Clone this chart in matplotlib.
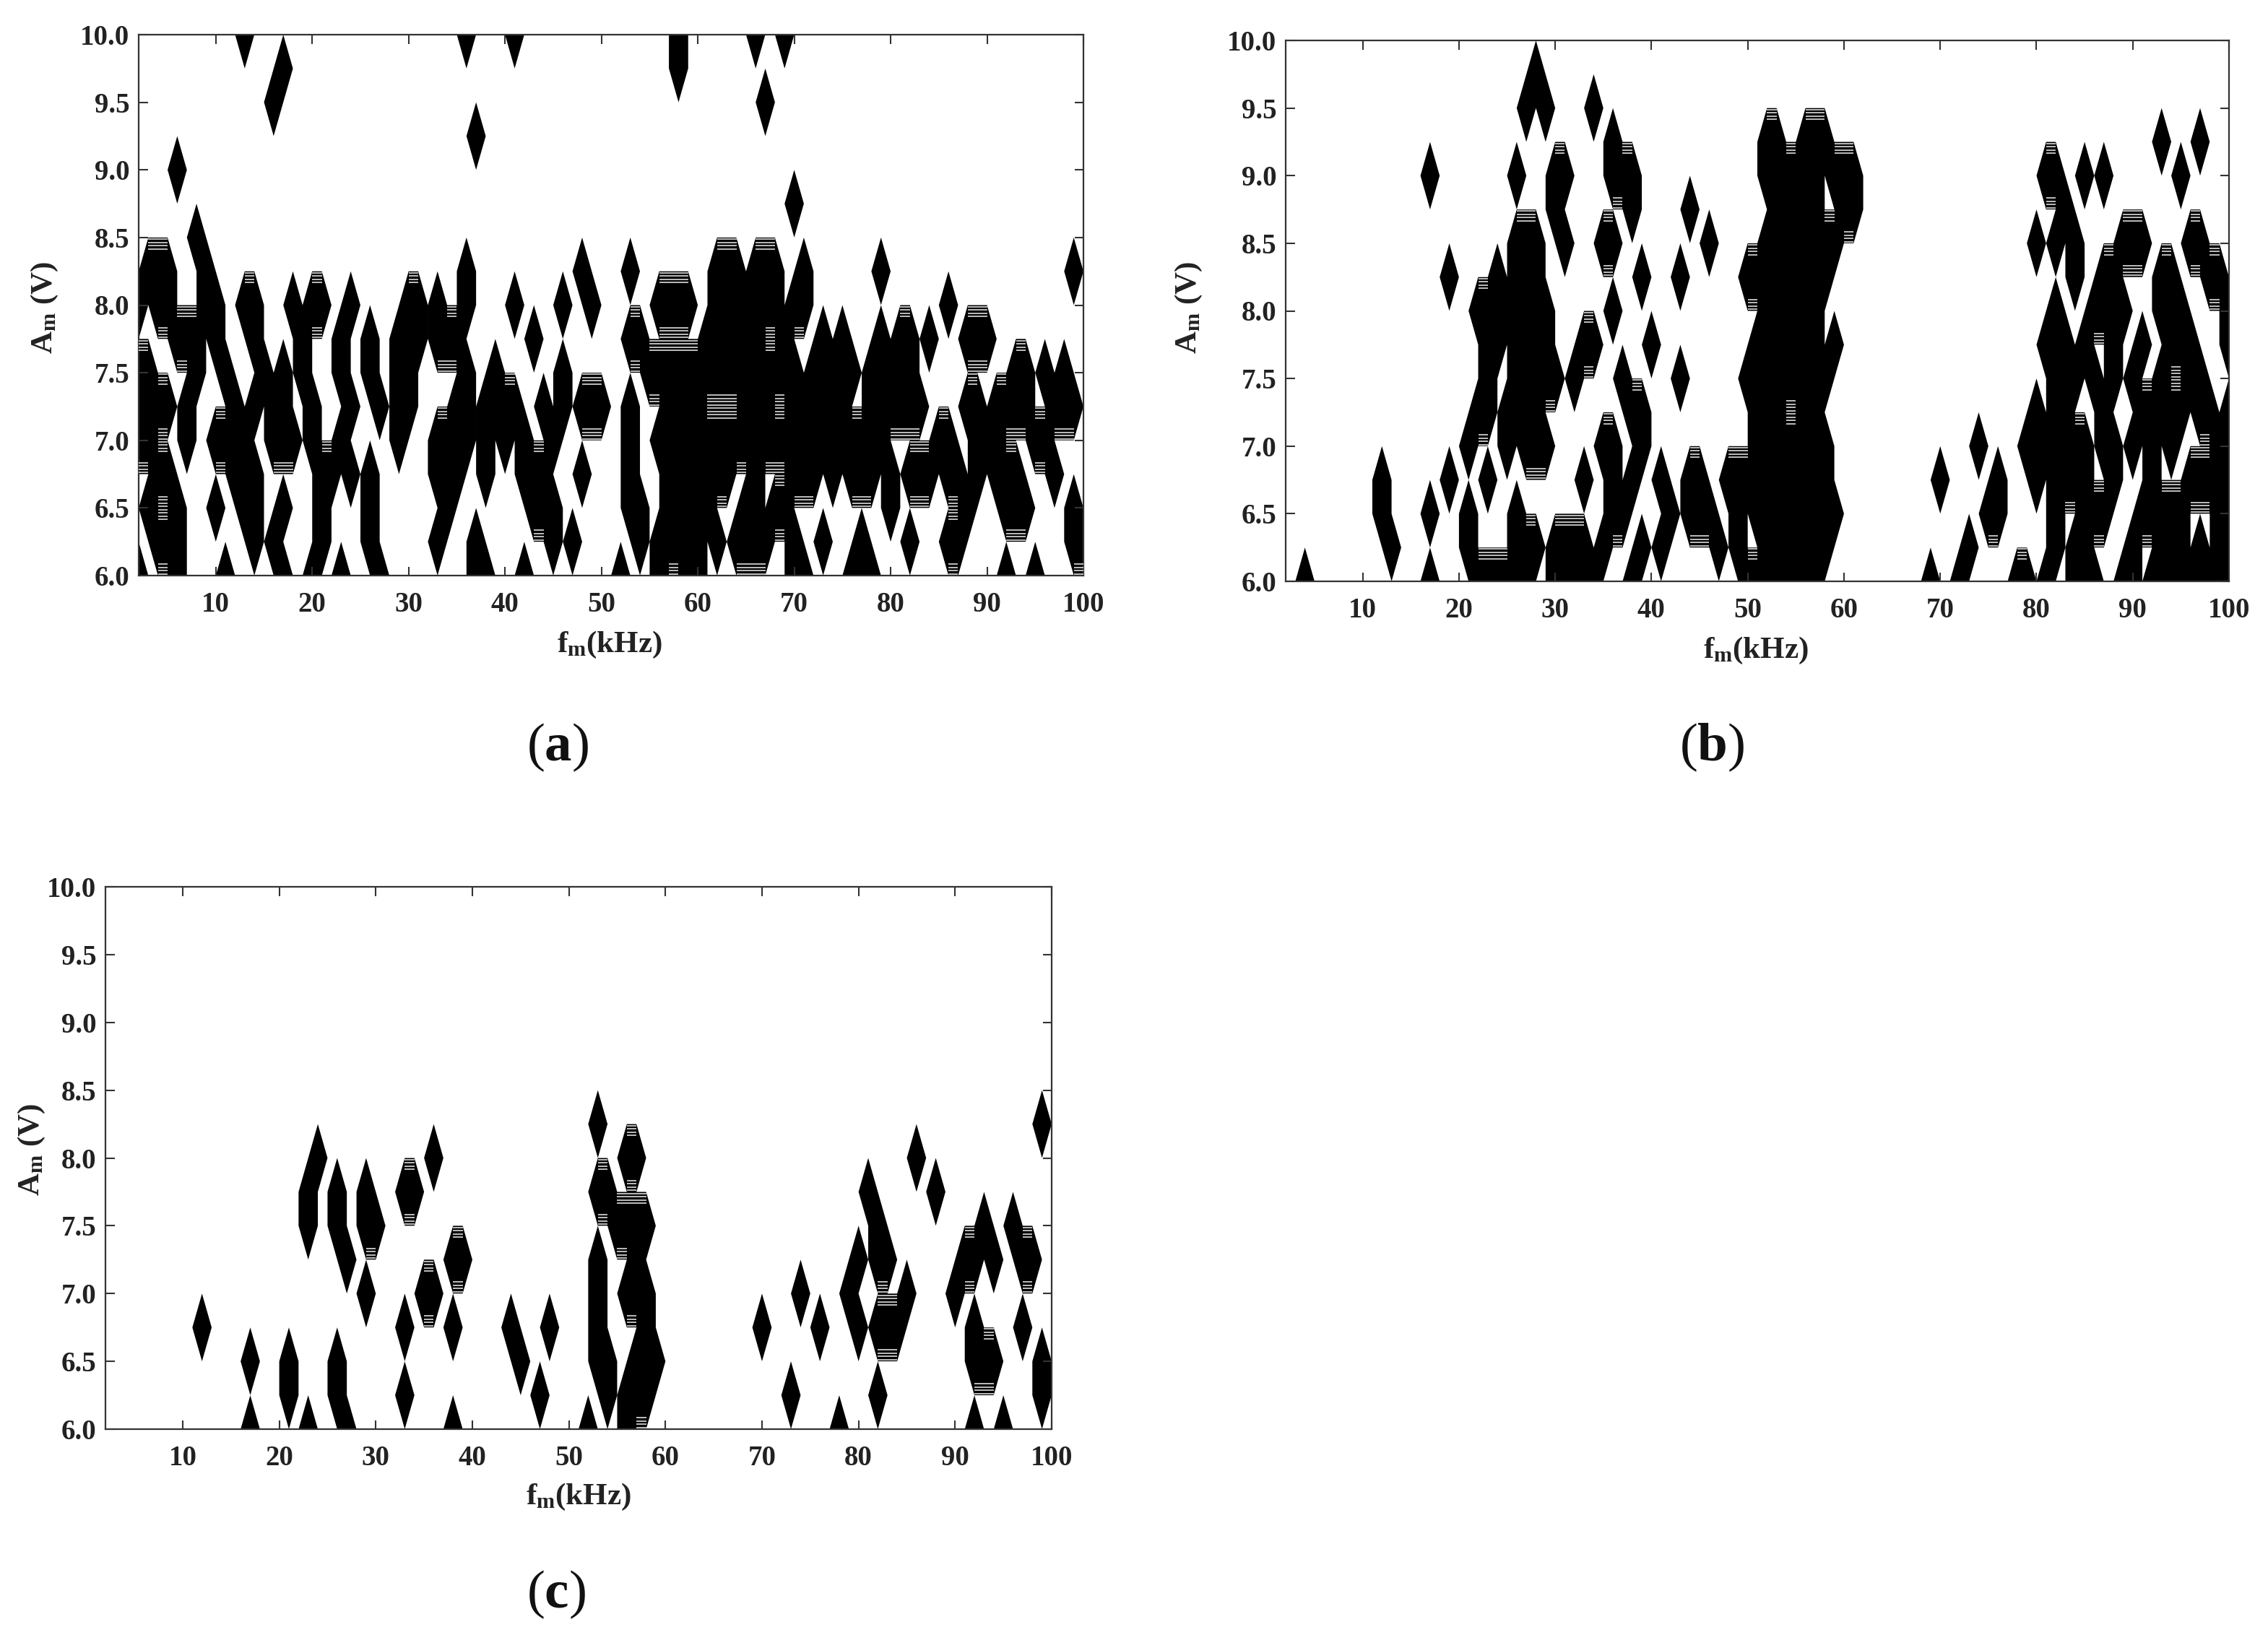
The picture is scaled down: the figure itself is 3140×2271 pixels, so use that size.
import numpy as np
import matplotlib
matplotlib.use("Agg")
import matplotlib.pyplot as plt

plt.rcParams['font.family'] = ['Liberation Serif', 'DejaVu Serif']
plt.rcParams['mathtext.fontset'] = 'custom'
plt.rcParams['mathtext.rm'] = 'Liberation Serif'
plt.rcParams['mathtext.it'] = 'Liberation Serif:bold'
plt.rcParams['mathtext.bf'] = 'Liberation Serif:bold'

W, H = 3140, 2271
frequency_khz = np.arange(2, 101)
amplitude_v = np.array([6.0, 6.25, 6.5, 6.75, 7.0, 7.25, 7.5, 7.75, 8.0, 8.25, 8.5, 8.75, 9.0, 9.25, 9.5, 9.75, 10.0])
x_ticks = [10, 20, 30, 40, 50, 60, 70, 80, 90, 100]
y_ticks = [6.0, 6.5, 7.0, 7.5, 8.0, 8.5, 9.0, 9.5, 10.0]

# Panel (a): frequencies (kHz) flagged at each amplitude (V)
a_1000 = [13, 36, 41, 58, 66, 69]
a_975 = [17, 58]
a_950 = [16, 67]
a_925 = [37]
a_900 = [6]
a_875 = [70]
a_850 = [8]
a_825 = [3, 4, 5, 9, 36, 48, 53, 62, 63, 64, 66, 67, 68, 71, 79, 99]
a_800 = [2, 4, 5, 9, 10, 13, 14, 18, 20, 21, 24, 30, 31, 33, 36, 41, 46, 49, 56, 57, 58, 59, 62, 63, 64, 65, 66, 67, 68, 70, 71, 86]
a_775 = [6, 7, 8, 10, 14, 19, 23, 26, 29, 30, 31, 33, 34, 35, 43, 53, 54, 61, 62, 63, 64, 65, 66, 69, 73, 75, 79, 81, 82, 84, 88, 89, 90]
a_750 = [2, 3, 8, 11, 15, 17, 19, 23, 26, 29, 30, 36, 39, 46, 55, 56, 57, 58, 59, 60, 61, 62, 63, 64, 65, 66, 67, 68, 69, 70, 72, 73, 74, 75, 76, 78, 79, 80, 81, 82, 93, 94, 96, 98]
a_725 = [2, 3, 4, 5, 7, 12, 14, 16, 17, 20, 24, 27, 29, 30, 35, 36, 38, 39, 40, 41, 44, 46, 48, 49, 50, 53, 57, 58, 59, 60, 65, 66, 67, 70, 71, 72, 73, 74, 75, 78, 79, 80, 81, 82, 83, 88, 89, 91, 92, 93, 94, 97, 98, 99]
a_700 = [2, 3, 7, 10, 11, 12, 13, 16, 17, 18, 20, 23, 29, 33, 34, 35, 36, 38, 40, 42, 45, 53, 56, 57, 58, 59, 60, 61, 62, 63, 64, 65, 66, 67, 68, 69, 70, 71, 72, 73, 74, 75, 76, 77, 78, 79, 85, 86, 89, 90, 91, 95, 96]
a_675 = [4, 5, 12, 13, 14, 21, 22, 24, 26, 33, 34, 35, 38, 42, 43, 44, 48, 53, 57, 58, 59, 60, 61, 62, 63, 66, 70, 71, 72, 74, 76, 77, 78, 80, 82, 83, 84, 86, 87, 89, 91, 92, 93, 97]
a_650 = [3, 6, 10, 13, 14, 17, 21, 26, 34, 43, 44, 45, 53, 54, 57, 58, 59, 60, 61, 65, 66, 68, 69, 80, 88, 92, 93, 94, 99]
a_625 = [4, 5, 6, 14, 16, 21, 26, 33, 37, 45, 47, 54, 56, 57, 58, 59, 60, 62, 64, 65, 66, 67, 70, 73, 77, 82, 86, 87, 99, 100]
a_600 = [2, 6, 11, 17, 20, 23, 27, 37, 38, 42, 52, 56, 59, 60, 70, 71, 76, 77, 78, 92, 95]

# Panel (b)
b_975 = [28]
b_950 = [27, 29, 34]
b_925 = [36, 52, 53, 56, 57, 58, 93, 97]
b_900 = [17, 26, 30, 31, 36, 37, 38, 52, 53, 54, 55, 56, 57, 59, 60, 61, 81, 82, 85, 87, 95]
b_875 = [30, 38, 44, 53, 54, 55, 56, 57, 60, 61, 83]
b_850 = [26, 27, 28, 31, 35, 36, 46, 52, 53, 54, 55, 56, 57, 58, 59, 80, 82, 84, 89, 90, 91, 96, 97]
b_825 = [19, 24, 26, 27, 28, 39, 43, 50, 51, 52, 53, 54, 55, 56, 57, 58, 84, 87, 88, 93, 94, 98, 99]
b_800 = [22, 23, 24, 25, 26, 27, 28, 29, 36, 52, 53, 54, 55, 56, 57, 82, 86, 87, 88, 89, 93, 94, 95, 100]
b_775 = [23, 24, 26, 27, 28, 29, 33, 34, 40, 51, 52, 53, 54, 55, 56, 57, 59, 81, 82, 83, 85, 88, 91, 94, 95, 96, 100]
b_750 = [23, 26, 27, 28, 29, 30, 32, 37, 43, 50, 51, 52, 53, 54, 55, 56, 57, 58, 82, 83, 84, 86, 88, 90, 93, 96, 97]
b_725 = [22, 23, 25, 26, 27, 28, 38, 39, 51, 52, 53, 56, 57, 80, 82, 83, 87, 91, 92, 93, 94, 95, 97, 98, 100]
b_700 = [21, 25, 27, 28, 29, 35, 36, 39, 51, 52, 53, 54, 55, 56, 57, 58, 74, 79, 80, 81, 82, 83, 84, 85, 87, 88, 90, 92, 94, 99, 100]
b_675 = [12, 19, 23, 33, 36, 38, 41, 44, 45, 48, 49, 50, 51, 52, 53, 54, 55, 56, 57, 58, 70, 76, 80, 82, 83, 84, 85, 88, 92, 96, 97, 98, 99, 100]
b_650 = [12, 17, 21, 26, 36, 37, 42, 44, 45, 46, 49, 51, 52, 53, 54, 55, 56, 57, 58, 59, 75, 76, 82, 85, 86, 87, 91, 92, 93, 94, 95, 99, 100]
b_625 = [13, 21, 26, 27, 28, 30, 31, 32, 33, 35, 39, 41, 47, 49, 52, 53, 54, 55, 56, 57, 58, 73, 82, 84, 85, 90, 93, 94, 95, 97, 99, 100]
b_600 = [4, 17, 22, 23, 24, 25, 26, 27, 30, 31, 32, 33, 34, 38, 50, 51, 52, 53, 54, 55, 56, 57, 69, 72, 78, 79, 81, 84, 85, 86, 89, 90, 92, 93, 94, 95, 96, 97, 98, 99, 100]

# Panel (c)
c_825 = [53, 99]
c_800 = [24, 36, 56, 57, 86]
c_775 = [23, 26, 29, 33, 34, 53, 54, 81, 88]
c_750 = [23, 26, 29, 30, 55, 56, 57, 58, 82, 93, 96]
c_725 = [27, 38, 39, 53, 57, 80, 82, 83, 91, 92, 94, 97, 98]
c_700 = [29, 35, 36, 53, 56, 57, 58, 74, 79, 85, 90]
c_675 = [12, 33, 38, 44, 48, 53, 58, 70, 76, 80, 82, 83, 84, 92, 97]
c_650 = [17, 21, 26, 45, 53, 54, 57, 58, 59, 92, 93, 94, 99]
c_625 = [21, 26, 33, 47, 54, 56, 57, 58, 73, 82, 99]
c_600 = [17, 23, 27, 38, 52, 56, 78, 92, 95]

rows_a = {10.0: a_1000, 9.75: a_975, 9.5: a_950, 9.25: a_925, 9.0: a_900, 8.75: a_875, 8.5: a_850, 8.25: a_825,
          8.0: a_800, 7.75: a_775, 7.5: a_750, 7.25: a_725, 7.0: a_700, 6.75: a_675, 6.5: a_650, 6.25: a_625, 6.0: a_600}
rows_b = {9.75: b_975, 9.5: b_950, 9.25: b_925, 9.0: b_900, 8.75: b_875, 8.5: b_850, 8.25: b_825, 8.0: b_800,
          7.75: b_775, 7.5: b_750, 7.25: b_725, 7.0: b_700, 6.75: b_675, 6.5: b_650, 6.25: b_625, 6.0: b_600}
rows_c = {8.25: c_825, 8.0: c_800, 7.75: c_775, 7.5: c_750, 7.25: c_725, 7.0: c_700, 6.75: c_675, 6.5: c_650,
          6.25: c_625, 6.0: c_600}


def build_grid(rows):
    z = np.zeros((len(amplitude_v), len(frequency_khz)))
    for amp, freqs in rows.items():
        j = int(np.argmin(np.abs(amplitude_v - amp)))
        for f in freqs:
            z[j, f - frequency_khz[0]] = 1.0
    return z


def draw_panel(fig, box, rows):
    left, top, right, bottom = box
    ax = fig.add_axes([left / W, 1 - bottom / H, (right - left) / W, (bottom - top) / H])
    z = build_grid(rows)
    ax.contourf(frequency_khz, amplitude_v, z, levels=[1e-3, 2], colors='k', antialiased=True)
    # banding along flat contour edges
    offs = np.array([0.012, 0.036, 0.060, 0.084])
    for j in range(len(amplitude_v) - 1):
        for i in range(len(frequency_khz) - 1):
            lo = z[j, i] + z[j, i + 1]
            hi = z[j + 1, i] + z[j + 1, i + 1]
            if lo == 2 and hi == 0:
                ys = amplitude_v[j + 1] - offs
            elif lo == 0 and hi == 2:
                ys = amplitude_v[j] + offs
            else:
                continue
            ax.hlines(ys, frequency_khz[i], frequency_khz[i + 1], colors='#dcdcdc', lw=1.2, zorder=3)
    ax.set_xlim(2, 100)
    ax.set_ylim(6, 10)
    ax.set_xticks(x_ticks)
    ax.set_yticks(y_ticks)
    ax.set_yticklabels([f'{v:.1f}' for v in y_ticks])
    ax.tick_params(direction='in', top=True, right=True, length=9, width=1.5, color='#333333', labelsize=28)
    ax.tick_params(axis='x', pad=16)
    ax.tick_params(axis='y', pad=9)
    for lab in ax.get_xticklabels() + ax.get_yticklabels():
        lab.set_fontweight('bold')
        lab.set_color('#222222')
    for s in ax.spines.values():
        s.set_linewidth(1.6)
        s.set_color('#333333')
    ax.set_zorder(2)
    return ax


fig = plt.figure(figsize=(W / 100, H / 100), dpi=100, facecolor='white')

panels = [
    ((192, 48, 1500, 797), rows_a, (844, 893), (62, 426), (772, 1035), '(a)'),
    ((1780, 56, 3086, 805), rows_b, (2431, 901), (1646, 426), (2370, 1035), '(b)'),
    ((146, 1228, 1456, 1979), rows_c, (801, 2073), (44, 1592), (770, 2208), '(c)'),
]
for box, rows, xl, yl, cap, name in panels:
    draw_panel(fig, box, rows)
    fig.text(xl[0] / W, 1 - xl[1] / H, r'$\mathbf{f_m}$' + r'$\mathbf{(kHz)}$', ha='center', va='center',
             fontsize=31, color='#222222')
    fig.text(yl[0] / W, 1 - yl[1] / H, r'$\mathbf{A_m}$' + ' ' + r'$\mathbf{(V)}$', ha='center', va='center',
             rotation=90, fontsize=31, color='#222222')
    fig.text(cap[0] / W, 1 - cap[1] / H, '(' + rf'$\mathbf{{{name[1]}}}$' + ')', ha='center', va='center',
             fontsize=54, color='#111111')

fig.savefig('out.png', dpi=100, facecolor='white')
